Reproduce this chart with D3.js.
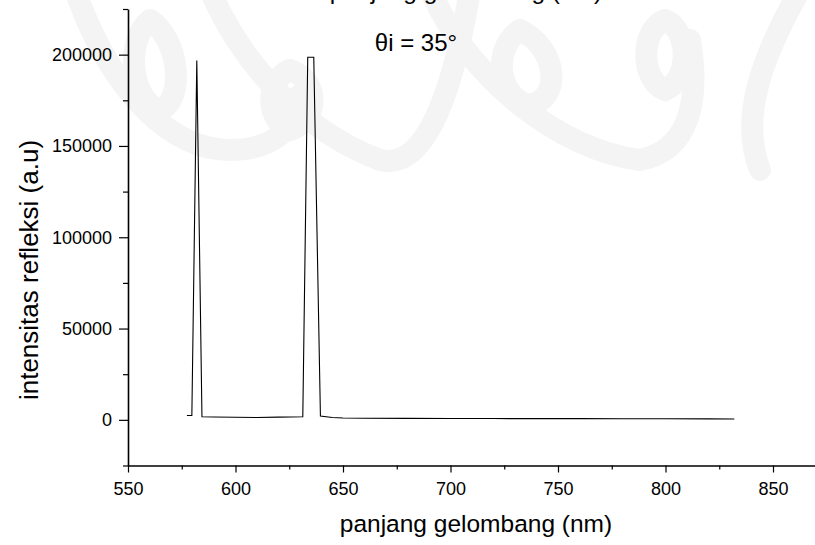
<html>
  <head>
    <meta charset="utf-8">
    <title>intensitas refleksi</title>
    <style>
      body { margin: 0; background: #fff; }
      text { font-family: "Liberation Sans", Arial, Helvetica, sans-serif; }
    </style>
    <script src="https://d3js.org/d3.v7.min.js"></script>
  </head>
  <body>
    <svg id="chart"></svg>
    <script>
      // wavelength (nm) and reflected intensity (a.u)
      const wavelength = [577.4, 579.7, 582.0, 584.4, 590, 600, 610, 620, 631.3,
                          633.6, 636.4, 639.5, 645, 650, 660, 680, 700, 720,
                          740, 760, 780, 800, 820, 832];
      const intensity = [2400, 2400, 196800, 1700, 1600, 1400, 1300, 1500, 1700,
                         198600, 198600, 2100, 1300, 1000, 900, 800, 700, 700,
                         650, 650, 600, 600, 550, 500];
      const xTicks = [550, 600, 650, 700, 750, 800, 850];
      const xMinor = [575, 625, 675, 725, 775, 825, 870];
      const yTicks = [0, 50000, 100000, 150000, 200000];
      const yMinor = [-25000, 25000, 75000, 125000, 175000, 225000];
      const titleText = 'panjang gelombang (nm)';
      const xLabel = 'panjang gelombang (nm)';
      const yLabel = 'intensitas refleksi (a.u)';
      const note = 'θi = 35°';

      const width = 815, height = 545;
      const svg = d3.select('#chart').attr('width', width).attr('height', height);

      // faint watermark in the background
      const wm = svg.append('g')
        .attr('fill', 'none')
        .attr('stroke', '#f4f4f4')
        .attr('stroke-width', 22)
        .attr('stroke-linecap', 'round');
      wm.append('path').attr('d', 'M 75 -10 C 110 90, 170 150, 230 150 C 280 150, 300 120, 300 95');
      wm.append('path').attr('d', 'M 150 20 C 125 40, 130 100, 160 110 C 185 100, 180 40, 150 20');
      wm.append('path').attr('d', 'M 290 70 C 265 80, 265 120, 290 130 C 320 120, 320 80, 290 70');
      wm.append('path').attr('d', 'M 210 -10 C 240 60, 300 130, 380 160 C 420 170, 450 110, 470 -10');
      wm.append('path').attr('d', 'M 520 30 C 490 50, 500 100, 530 105 C 560 100, 560 50, 520 30');
      wm.append('path').attr('d', 'M 430 -10 C 470 80, 560 150, 640 160 C 690 150, 700 100, 690 40');
      wm.append('path').attr('d', 'M 665 20 C 640 30, 640 80, 665 90 C 690 80, 690 30, 665 20');
      wm.append('path').attr('d', 'M 800 -10 C 760 60, 740 120, 760 170');

      const x = d3.scaleLinear().domain([550, 870]).range([128, 816]);
      const y = d3.scaleLinear().domain([-25000, 225000]).range([465.5, 9]);

      // x axis with major and minor ticks
      svg.append('g')
        .attr('transform', `translate(0,${y(-25000)})`)
        .call(d3.axisBottom(x).tickValues(xMinor).tickSize(4).tickFormat(''))
        .call(g => g.select('.domain').remove());
      const xAxis = svg.append('g')
        .attr('transform', `translate(0,${y(-25000)})`)
        .call(d3.axisBottom(x).tickValues(xTicks).tickSize(7).tickSizeOuter(0).tickPadding(10));
      xAxis.selectAll('text').attr('font-size', 18).attr('font-family', null).attr('fill', '#000');

      // y axis with major and minor ticks
      svg.append('g')
        .attr('transform', `translate(${x(550)},0)`)
        .call(d3.axisLeft(y).tickValues(yMinor).tickSize(5).tickFormat(''))
        .call(g => g.select('.domain').remove());
      const yAxis = svg.append('g')
        .attr('transform', `translate(${x(550)},0)`)
        .call(d3.axisLeft(y).tickValues(yTicks).tickSize(9).tickSizeOuter(0).tickPadding(7).tickFormat(d3.format('d')));
      yAxis.selectAll('text').attr('font-size', 18).attr('font-family', null).attr('fill', '#000');

      svg.selectAll('.domain').attr('stroke-width', 1.6);
      svg.selectAll('.tick line').attr('stroke-width', 1.2);

      // spectrum line
      const points = wavelength.map((w, i) => [w, intensity[i]]);
      svg.append('path')
        .datum(points)
        .attr('fill', 'none')
        .attr('stroke', '#000')
        .attr('stroke-width', 1.1)
        .attr('stroke-linejoin', 'miter')
        .attr('d', d3.line().x(d => x(d[0])).y(d => y(d[1])));

      // texts
      svg.append('text')
        .attr('x', 466).attr('y', -1)
        .attr('text-anchor', 'middle')
        .attr('font-size', 24.5)
        .text(titleText);
      svg.append('text')
        .attr('x', 476).attr('y', 532)
        .attr('text-anchor', 'middle')
        .attr('font-size', 24.5)
        .text(xLabel);
      svg.append('text')
        .attr('transform', 'translate(38,270) rotate(-90)')
        .attr('text-anchor', 'middle')
        .attr('font-size', 26)
        .text(yLabel);
      svg.append('text')
        .attr('x', 416).attr('y', 51)
        .attr('text-anchor', 'middle')
        .attr('font-size', 24)
        .text(note);
    </script>
  </body>
</html>
